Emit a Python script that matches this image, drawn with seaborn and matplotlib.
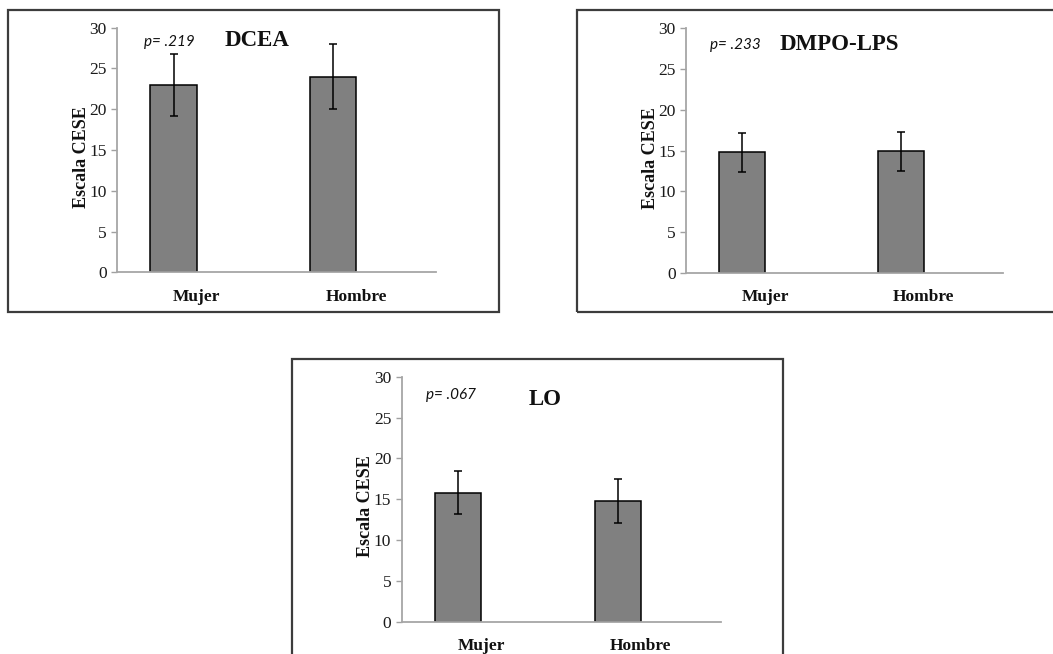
import matplotlib
matplotlib.use("Agg")
import matplotlib.pyplot as plt
import seaborn as sns
import pandas as pd
from matplotlib.patches import Rectangle

# ---- data ----
categories = ["Mujer", "Hombre"]
panel_titles = ["DCEA", "DMPO-LPS", "LO"]
p_values = ["p= .219", "p= .233", "p= .067"]
dcea_means = [23.0, 24.0]
dcea_err = [3.8, 4.0]
dmpo_means = [14.8, 14.9]
dmpo_err = [2.4, 2.4]
lo_means = [15.8, 14.8]
lo_err = [2.65, 2.7]
y_ticks = [0, 5, 10, 15, 20, 25, 30]
y_label = "Escala CESE"

sns.set_theme(style="white")
plt.rcParams["font.family"] = ["Liberation Serif", "DejaVu Sans"]

W, H = 1053, 654
fig = plt.figure(figsize=(W / 100, H / 100), dpi=100)

# panel frames (pixels: left, top, right, bottom)
frames = [(8, 10, 499, 312), (577, 10, 1060, 312), (292, 359, 783, 660)]
for (l, t, r, b) in frames:
    fig.patches.append(Rectangle((l / W, 1 - b / H), (r - l) / W, (b - t) / H,
                                 transform=fig.transFigure, fill=False,
                                 edgecolor="#3c3c3c", linewidth=1.6, zorder=0))

# axes boxes (pixels: left, top, right, bottom)
axboxes = [(117, 27.7, 436, 272.3), (686, 28.3, 1003, 272.7), (401.7, 376.7, 720.7, 621.7)]
means_list = [dcea_means, dmpo_means, lo_means]
err_list = [dcea_err, dmpo_err, lo_err]
title_pos = [(0.44, 28.4), (0.483, 28.05), (0.449, 27.2)]
p_pos = [(0.163, 28.3), (0.155, 27.9), (0.154, 27.8)]

for i, (l, t, r, b) in enumerate(axboxes):
    ax = fig.add_axes([l / W, 1 - b / H, (r - l) / W, (b - t) / H])
    df = pd.DataFrame({"cat": categories, "val": means_list[i], "serie": ["A", "A"]})
    sns.barplot(data=df, x="cat", y="val", hue="serie", hue_order=["A", "B"],
                order=categories, width=0.58, dodge=True,
                palette={"A": "#808080", "B": "#808080"},
                edgecolor="black", linewidth=1.1, errorbar=None,
                legend=False, ax=ax)
    bars = [p for p in ax.patches if p.get_height() > 0]
    bars = sorted(bars, key=lambda p: p.get_x())
    for p, e in zip(bars, err_list[i]):
        ax.errorbar(p.get_x() + p.get_width() / 2, p.get_height(), yerr=e,
                    fmt="none", ecolor="black", elinewidth=1.1,
                    capsize=2.6, capthick=1.1, zorder=5)
    ax.set_xlim(-0.5, 1.5)
    ax.set_ylim(0, 30)
    ax.set_yticks(y_ticks)
    ax.set_yticklabels([str(v) for v in y_ticks], fontsize=12.5, color="#1a1a1a")
    ax.set_xticks([0, 1])
    ax.set_xticklabels(categories, fontsize=12.5, fontweight="bold", color="#111111")
    ax.tick_params(axis="x", length=0, pad=12)
    ax.tick_params(axis="y", left=True, length=4, width=1.0, color="#a0a0a0", pad=3.5)
    ax.set_xlabel("")
    ax.set_ylabel(y_label, fontsize=13, fontweight="bold", va="center", color="#111111")
    ax.yaxis.set_label_coords(-0.112, 0.47)
    for s in ["top", "right"]:
        ax.spines[s].set_visible(False)
    for s in ["left", "bottom"]:
        ax.spines[s].set_color("#a6a6a6")
        ax.spines[s].set_linewidth(1.3)
    ax.patch.set_alpha(0)
    tx, ty = title_pos[i]
    ax.text(tx, ty, panel_titles[i], transform=ax.get_yaxis_transform(),
            ha="center", va="center", fontsize=16.5, fontweight="bold", color="#111111")
    px, py = p_pos[i]
    ax.text(px, py, p_values[i], transform=ax.get_yaxis_transform(),
            ha="center", va="center", fontsize=11, style="italic",
            family=["Lato", "DejaVu Sans"], color="#111111")

fig.savefig("out.png", dpi=100)
